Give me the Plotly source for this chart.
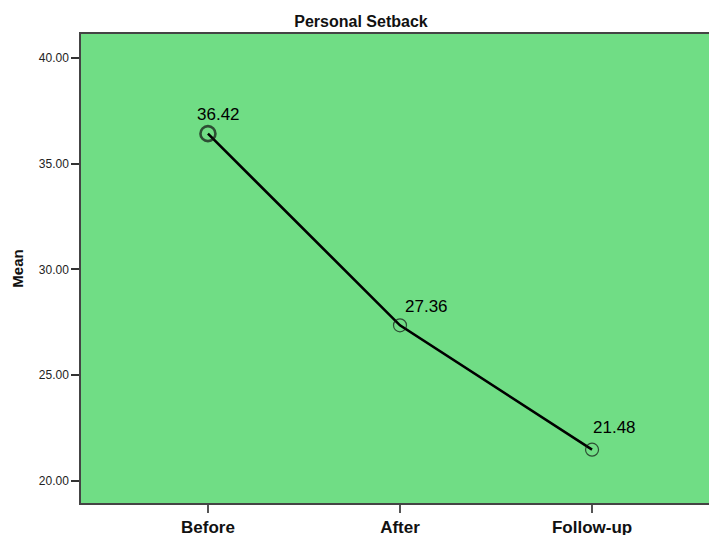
import plotly.graph_objects as go

categories = ["Before", "After", "Follow-up"]
means = [36.42, 27.36, 21.48]
labels = ["36.42", "27.36", "21.48"]
y_ticks = [20, 25, 30, 35, 40]
y_tick_text = ["20.00", "25.00", "30.00", "35.00", "40.00"]

fig = go.Figure()

fig.add_trace(go.Scatter(
    x=categories, y=means, mode="lines+markers",
    line=dict(color="black", width=2.6),
    marker=dict(size=[15, 13, 13], symbol="circle-open", color="#111",
                line=dict(color="#111", width=[2.6, 1.2, 1.2])),
    hoverinfo="skip", showlegend=False,
))

# value labels, offsets in pixels from each point
shifts = [(11, 19), (27, 19), (22, 22)]
for cat, val, txt, (dx, dy) in zip(categories, means, labels, shifts):
    fig.add_annotation(
        x=cat, y=val, text=txt, showarrow=False,
        xshift=dx, yshift=dy,
        font=dict(family="Arial, Liberation Sans", size=17, color="black"),
    )

fig.update_layout(
    width=709, height=535,
    margin=dict(l=81, r=0, t=34, b=32),
    plot_bgcolor="#70dd85", paper_bgcolor="white",
    title=dict(
        text="<b>Personal Setback</b>", x=361 / 709, xanchor="center",
        y=1 - 21 / 535, yanchor="middle",
        font=dict(family="Arial, Liberation Sans", size=16, color="#111"),
    ),
    xaxis=dict(
        type="category", range=[-0.661, 2.609], automargin=False,
        showgrid=False, zeroline=False,
        showline=True, linecolor="#444", linewidth=1.5, mirror=True,
        ticks="outside", ticklen=8, tickcolor="#555", tickwidth=1.5,
        ticklabelstandoff=0,
        tickfont=dict(family="Arial, Liberation Sans", size=17, color="#111"),
        tickvals=categories, ticktext=[f"<b>{c}</b>" for c in categories],
    ),
    yaxis=dict(
        range=[18.96, 41.13], showgrid=False, zeroline=False,
        showline=True, linecolor="#444", linewidth=1.5,
        ticks="outside", ticklen=8, tickcolor="#333", tickwidth=1.5,
        tickvals=y_ticks, ticktext=y_tick_text,
        tickfont=dict(family="Arial, Liberation Sans", size=12, color="#222"),
        title=dict(text="<b>Mean</b>", standoff=12,
                   font=dict(family="Arial, Liberation Sans", size=15, color="#111")),
    ),
)

# drop the default page margin so the figure sits at the window corner
fig.write_html("out.html", config={"displayModeBar": False},
               post_script="document.body.style.margin='0';")
